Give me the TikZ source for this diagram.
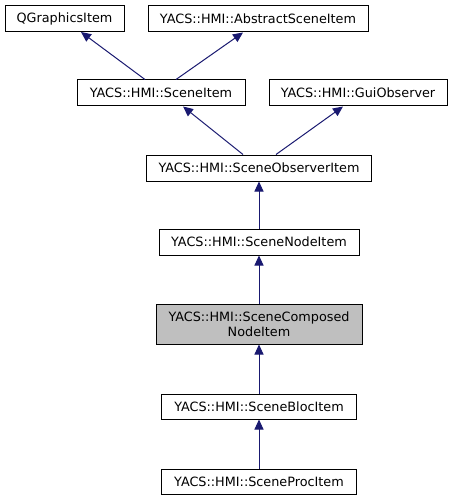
\documentclass[tikz,border=0pt]{standalone}
\usepackage{fontspec}
\setmainfont{DejaVu Sans}
\usetikzlibrary{arrows.meta}
\definecolor{edge}{HTML}{191970}
\begin{document}
\begin{tikzpicture}[x=1pt,y=-1pt,
  box/.style={draw=black,line width=1pt,fill=white,inner sep=0pt,font=\fontsize{12.8}{14.5}\selectfont,align=center},
  inh/.style={draw=edge,line width=1pt,-{Triangle[length=10pt,width=9pt]}}]
\useasboundingbox (0,0) rectangle (453,500);
\node[box,minimum width=119pt,minimum height=26pt] (qg) at (64.5,18.5) {QGraphicsItem};
\node[box,minimum width=220pt,minimum height=26pt] (abs) at (258,19) {YACS::HMI::AbstractSceneItem};
\node[box,minimum width=168pt,minimum height=26pt] (si) at (161,93) {YACS::HMI::SceneItem};
\node[box,minimum width=178pt,minimum height=26pt] (gui) at (358,93) {YACS::HMI::GuiObserver};
\node[box,minimum width=225pt,minimum height=26pt] (soi) at (259,168) {YACS::HMI::SceneObserverItem};
\node[box,minimum width=200pt,minimum height=26pt] (sni) at (259,242) {YACS::HMI::SceneNodeItem};
\node[box,fill={rgb,255:red,191;green,191;blue,191},minimum width=206pt,minimum height=40pt] (sci) at (259,324) {YACS::HMI::SceneComposed\\NodeItem};
\node[box,minimum width=195pt,minimum height=25pt] (sbi) at (259,406.5) {YACS::HMI::SceneBlocItem};
\node[box,minimum width=195pt,minimum height=25pt] (spi) at (259,481.5) {YACS::HMI::SceneProcItem};
\draw[inh] (si.north -| 145,0) -- (qg.south -| 81,0);
\draw[inh] (si.north -| 176,0) -- (abs.south -| 243,0);
\draw[inh] (soi.north -| 243,0) -- (si.south -| 183,0);
\draw[inh] (soi.north -| 276,0) -- (gui.south -| 343,0);
\draw[inh] (sni.north) -- (soi.south);
\draw[inh] (sci.north) -- (sni.south);
\draw[inh] (sbi.north) -- (sci.south);
\draw[inh] (spi.north) -- (sbi.south);
\end{tikzpicture}
\end{document}
